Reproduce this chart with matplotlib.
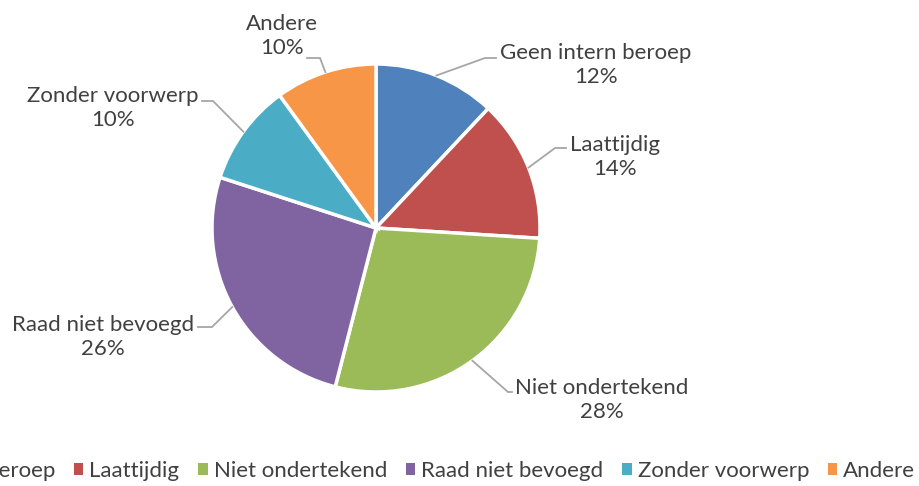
import numpy as np
import matplotlib.pyplot as plt
from matplotlib.patches import Patch

# Data
categories = ['Geen intern beroep', 'Laattijdig', 'Niet ondertekend',
              'Raad niet bevoegd', 'Zonder voorwerp', 'Andere']
shares = [12, 14, 28, 26, 10, 10]
colors = ['#4F81BD', '#C0504D', '#9BBB59', '#8064A2', '#4BACC6', '#F79646']

plt.rcParams['font.family'] = ['Lato', 'DejaVu Sans']
text_color = '#404040'
fs = 16

W, H = 919, 486
fig = plt.figure(figsize=(W / 100, H / 100), dpi=100)
ax = fig.add_axes([0, 0, 1, 1])

# pie in pixel-like coordinates (y measured from the bottom)
cx, cy, r = 376, H - 228, 164
wedges, _ = ax.pie(shares, colors=colors, startangle=90, counterclock=False,
                   center=(cx, cy), radius=r,
                   wedgeprops=dict(edgecolor='white', linewidth=2.5))
ax.set_xlim(0, W)
ax.set_ylim(0, H)
ax.set_aspect('equal')
ax.axis('off')

# label layout: text centre, knee of leader line, end of leader line (pixels from top)
label_pos = [(596, 65), (615, 157), (602, 400), (103, 337), (113, 108), (282, 36)]
knees = [(485, 58), (555, 148), (508, 392), (212, 327), (213, 101), (320, 58)]
ends = [(496, 58), (566, 148), (512, 392), (198, 327), (202, 101), (307, 58)]

for w, name, val, lp, kn, en in zip(wedges, categories, shares, label_pos, knees, ends):
    ang = np.deg2rad((w.theta1 + w.theta2) / 2)
    sx, sy = cx + r * np.cos(ang), cy + r * np.sin(ang)
    ax.plot([sx, kn[0], en[0]], [sy, H - kn[1], H - en[1]],
            color='#A6A6A6', lw=1.3, solid_joinstyle='miter')
    ax.text(lp[0], H - lp[1], f'{name}\n{val}%', ha='center', va='center',
            fontsize=fs, color=text_color, linespacing=1.3)

# legend along the bottom, running off the left edge like the original
handles = [Patch(facecolor=c, edgecolor='none') for c in colors]
fig.legend(handles, categories, loc='center right', ncol=6,
           bbox_to_anchor=(0.996, 15 / H), frameon=False, fontsize=fs,
           handlelength=0.42, handleheight=0.42, handletextpad=0.27,
           columnspacing=0.85, borderpad=0, borderaxespad=0,
           labelcolor=text_color)

fig.savefig('out.png', dpi=100)
